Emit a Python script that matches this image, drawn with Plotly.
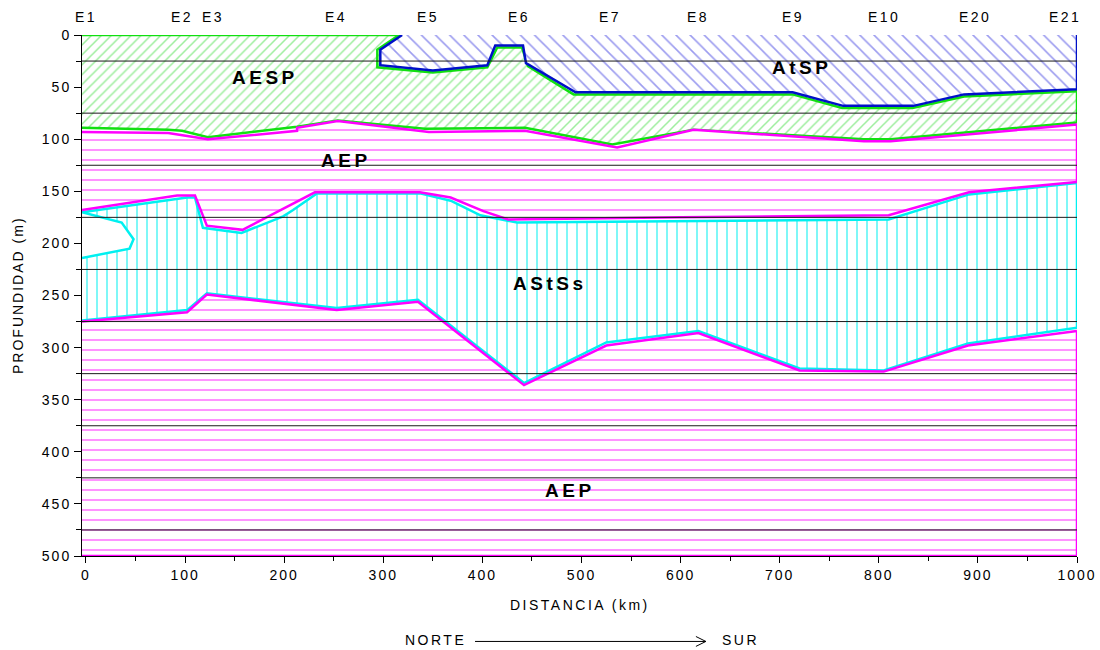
import plotly.graph_objects as go

# ---------------- DATA ----------------
station_names = ["E1", "E2", "E3", "E4", "E5", "E6", "E7", "E8", "E9", "E10", "E20", "E21"]
station_km = [0, 97, 128, 252, 345, 437, 529, 618, 713, 805, 897, 988]

x_tick_vals = [0, 100, 200, 300, 400, 500, 600, 700, 800, 900, 1000]
y_tick_vals = [0, 50, 100, 150, 200, 250, 300, 350, 400, 450, 500]

X_MIN, X_MAX, D_MAX = -4, 1000, 500

# AESP bottom boundary (green)
aesp_bot_km = [-4, 83, 97, 123, 213, 254, 342, 443, 531, 613, 661, 785, 812, 1000]
aesp_bot_d = [89, 91, 92, 98, 88, 82, 90, 89, 105, 91, 93, 100, 100, 84]

# AEP top boundary (magenta)
aep_top_km = [-4, 83, 123, 213, 213, 254, 346, 443, 536, 613, 661, 785, 812, 1000]
aep_top_d = [93, 94, 100, 92, 89, 82.5, 93, 92, 108, 91, 94, 102, 102, 86]

# AtSP polygon (blue)
atsp_km = [319, 297, 297, 350, 405, 413, 441, 444, 494, 713, 764, 835, 886, 1000, 1000]
atsp_d = [0, 14, 29, 34, 29, 10, 10, 27, 55, 55, 68, 68, 57, 52, 0]

# green edge of AESP along AtSP
aesp_top_km = [316, 294, 294, 350, 405, 415, 440, 446, 492, 713, 763, 834, 886, 1000]
aesp_top_d = [0, 14, 31, 36, 31, 12, 12, 30, 57, 57, 70, 70, 59, 54]

# ASTSs – magenta boundaries
astss_mtop_km = [-4, 92, 110, 122, 158, 231, 337, 368, 401, 426, 600, 810, 891, 1000]
astss_mtop_d = [168, 154, 154, 183, 187, 151, 151, 156, 169, 177, 175, 173, 151, 141]
astss_mbot_km = [-4, 102, 122, 253, 335, 442, 525, 618, 720, 805, 890, 1000]
astss_mbot_d = [275, 266, 249, 264, 256, 336, 298, 286, 322, 323, 298, 284]

# ASTSs – cyan boundaries
astss_ctop_km = [-4, 102, 110, 118, 157, 199, 209, 233, 337, 368, 398, 435, 810, 891, 1000]
astss_ctop_d = [170, 156, 156, 185, 190, 174, 168, 152, 152, 159, 173, 180, 177, 153, 142]
astss_cbot_km = [-4, 102, 122, 253, 335, 442, 525, 618, 720, 805, 890, 1000]
astss_cbot_d = [274, 264, 248, 262, 254, 334, 295, 284, 320, 322, 296, 281]
notch_km = [36, 48, 44, -4]
notch_d = [180, 196, 205, 214]

grid_depths = [25, 75, 125, 175, 225, 275, 325, 375, 425, 475]

unit_labels = ["AESP", "AtSP", "AEP", "AStSs", "AEP"]
unit_km = [181, 722, 262, 468, 488]
unit_d = [41, 31, 120, 238, 437]

FONT = "Liberation Sans, Arial, sans-serif"
GREEN = "#11e011"
MAG = "#ff00ff"
CYAN = "#00f0f0"
BLUE = "#0010c8"


def spaced(t, px=2):
    return f'<span style="letter-spacing:{px}px">{t}</span>'


fig = go.Figure()

# AESP
fig.add_trace(go.Scatter(
    x=[X_MIN, X_MAX] + aesp_bot_km[::-1], y=[0, 0] + aesp_bot_d[::-1],
    fill="toself", mode="lines", line=dict(color=GREEN, width=2.5),
    fillcolor="white",
    fillpattern=dict(shape="/", fgcolor="#3cdc3c", bgcolor="white", size=7, solidity=0.22),
    hoverinfo="skip", showlegend=False))

# AEP
fig.add_trace(go.Scatter(
    x=aep_top_km + [X_MAX, X_MIN], y=aep_top_d + [D_MAX, D_MAX],
    fill="toself", mode="lines", line=dict(color=MAG, width=2.5),
    fillcolor="white",
    fillpattern=dict(shape="-", fgcolor=MAG, bgcolor="white", size=10, solidity=0.17),
    hoverinfo="skip", showlegend=False))

# green edge around AtSP
fig.add_trace(go.Scatter(
    x=aesp_top_km, y=aesp_top_d, mode="lines", line=dict(color=GREEN, width=2.5),
    hoverinfo="skip", showlegend=False))

# AtSP
fig.add_trace(go.Scatter(
    x=atsp_km, y=atsp_d, fill="toself", mode="lines", line=dict(color=BLUE, width=2.5),
    fillcolor="white",
    fillpattern=dict(shape="\\", fgcolor="#3a3ae0", bgcolor="white", size=10, solidity=0.16),
    hoverinfo="skip", showlegend=False))

# ASTSs white envelope
fig.add_trace(go.Scatter(
    x=astss_mbot_km + astss_mtop_km[::-1], y=astss_mbot_d + astss_mtop_d[::-1],
    fill="toself", mode="lines", line=dict(width=0, color="white"), fillcolor="white",
    hoverinfo="skip", showlegend=False))

# ASTSs hatched body
fig.add_trace(go.Scatter(
    x=astss_cbot_km + astss_ctop_km[::-1] + notch_km,
    y=astss_cbot_d + astss_ctop_d[::-1] + notch_d,
    fill="toself", mode="lines", line=dict(color=CYAN, width=2.5),
    fillcolor="white",
    fillpattern=dict(shape="|", fgcolor=CYAN, bgcolor="white", size=10, solidity=0.2),
    hoverinfo="skip", showlegend=False))

# magenta ASTSs borders
for kx, dy in [(astss_mtop_km, astss_mtop_d), (astss_mbot_km, astss_mbot_d)]:
    fig.add_trace(go.Scatter(x=kx, y=dy, mode="lines", line=dict(color=MAG, width=2.5),
                             hoverinfo="skip", showlegend=False))

# black horizontal lines on top
for d in grid_depths:
    fig.add_shape(type="line", xref="x domain", yref="y", x0=0, x1=1, y0=d, y1=d,
                  line=dict(color="#1a1a1a", width=1), layer="above")

ann = []
for name, xk, yd in zip(unit_labels, unit_km, unit_d):
    ann.append(dict(x=xk, y=yd, xref="x", yref="y", text="<b>" + spaced(name, 3.5) + "</b>",
                    showarrow=False, xanchor="center", yanchor="middle",
                    font=dict(family=FONT, size=19, color="black")))
for name, xk in zip(station_names, station_km):
    ann.append(dict(x=xk, y=1.0345, xref="x", yref="paper", text=spaced(name, 2.5),
                    showarrow=False, xanchor="center", yanchor="middle",
                    font=dict(family=FONT, size=14, color="black")))
common = dict(xref="paper", yref="paper", showarrow=False, xanchor="center", yanchor="middle",
              font=dict(family=FONT, size=14, color="black"))
ann.append(dict(x=-0.0643, y=0.501, text=spaced("PROFUNDIDAD (m)", 2), textangle=-90, **common))
ann.append(dict(x=0.5, y=-0.094, text=spaced("DISTANCIA (km)", 2.5), **common))
ann.append(dict(x=0.355, y=-0.161, text=spaced("NORTE", 2.5), **common))
ann.append(dict(x=0.662, y=-0.161, text=spaced("SUR", 2.5), **common))

# direction arrow
fig.add_shape(type="line", xref="paper", yref="paper", x0=0.395, x1=0.627, y0=-0.164, y1=-0.164,
              line=dict(color="black", width=1))
fig.add_shape(type="path", xref="paper", yref="paper",
              path="M 0.617 -0.1545 L 0.627 -0.164 L 0.617 -0.1735",
              line=dict(color="black", width=1))

fig.update_layout(
    width=1100, height=650,
    margin=dict(l=82, r=23, t=35, b=94),
    plot_bgcolor="white", paper_bgcolor="white",
    font=dict(family=FONT, size=14, color="black"),
    annotations=ann,
    showlegend=False,
)
fig.update_xaxes(range=[X_MIN, X_MAX], tickvals=x_tick_vals,
                 ticktext=[spaced(v, 2) for v in x_tick_vals],
                 ticks="outside", ticklen=6, automargin=False,
                 tickcolor="black", showline=True, linecolor="black", linewidth=1,
                 showgrid=False, zeroline=False, layer="above traces",
                 tickfont=dict(family=FONT, size=14),
                 minor=dict(tick0=50, dtick=100, ticks="outside", ticklen=4, tickcolor="black"))
fig.update_yaxes(range=[D_MAX, 0], tickvals=y_tick_vals,
                 ticktext=[spaced(v, 2) for v in y_tick_vals],
                 ticks="outside", ticklen=7, automargin=False,
                 tickcolor="black", showline=True, linecolor="black", linewidth=1,
                 showgrid=False, zeroline=False, layer="above traces",
                 tickfont=dict(family=FONT, size=14),
                 minor=dict(tick0=25, dtick=50, ticks="outside", ticklen=5, tickcolor="black"))

fig.write_html("out.html")
